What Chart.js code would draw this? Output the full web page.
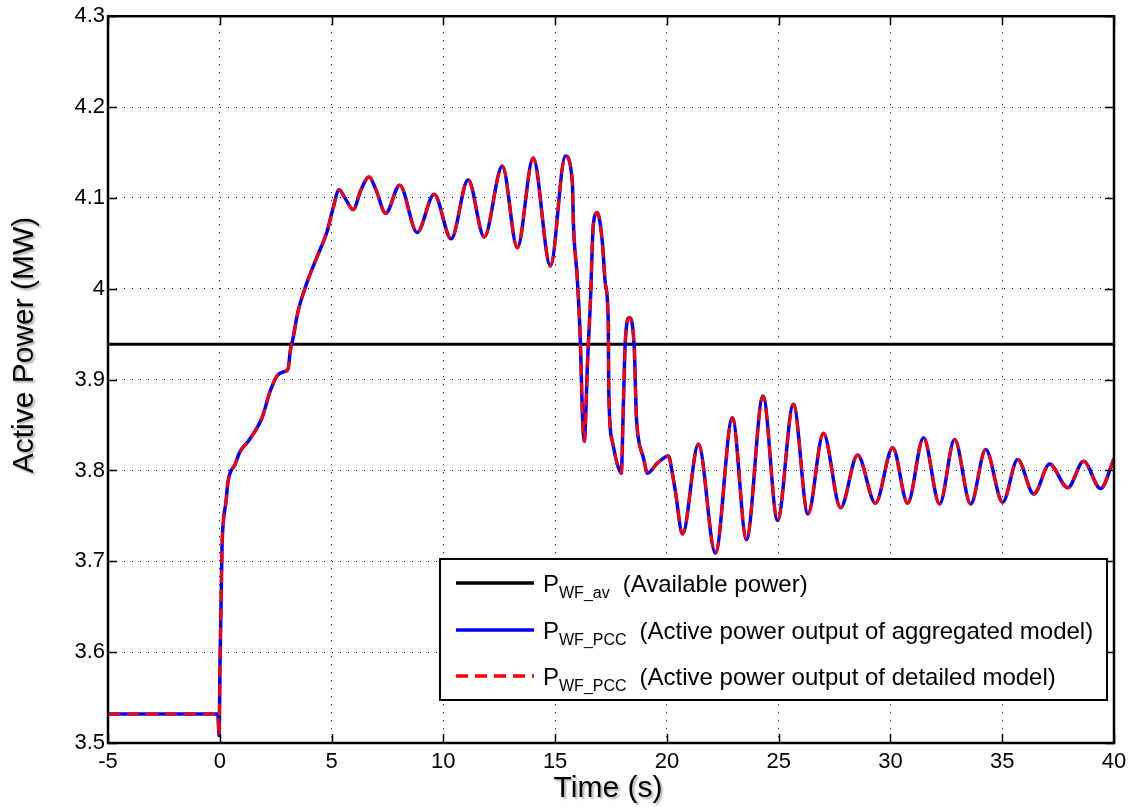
<!DOCTYPE html>
<html>
<head>
<meta charset="utf-8">
<title>Active power</title>
<script src="https://cdn.jsdelivr.net/npm/chart.js@4.4.0/dist/chart.umd.min.js"></script>
<style>
  body { margin: 0; background: #fff; }
  #powerChart { display: block; }
</style>
</head>
<body>
<canvas id="powerChart" width="1135" height="807"></canvas>
<script>
// values (time in s, power in MW)
const timeS = [-5, -0.09, -0.03, 0.01, 0.06, 0.10, 0.15, 0.28, 0.37, 0.69, 0.91, 1.27, 1.89, 2.25, 2.56, 2.92,
    3.06, 3.15, 3.28, 3.50, 3.82, 4.04, 4.40, 4.80, 5.07, 5.34, 5.60, 5.97, 6.30, 6.68, 7.00, 7.42, 8.05, 8.83,
    9.59, 10.35, 11.11, 11.83, 12.64, 13.31, 14.02, 14.79, 15.46, 15.77, 15.82, 15.99, 16.13, 16.22, 16.31, 16.35,
    16.44, 16.58, 16.71, 16.89, 17.11, 17.25, 17.38, 17.40, 17.56, 17.78, 17.96, 18.05, 18.14, 18.32, 18.54, 18.63,
    18.72, 18.95, 19.13, 19.57, 20.07, 20.25, 20.38, 20.70, 21.41, 22.17, 22.93, 23.56, 24.30, 24.95, 25.66, 26.31,
    27.00, 27.77, 28.53, 29.33, 30.10, 30.77, 31.48, 32.20, 32.87, 33.59, 34.26, 35.02, 35.69, 36.41, 37.12, 37.93,
    38.64, 39.40, 40.00];

const aggregatedP = [3.532, 3.532, 3.508, 3.587, 3.656, 3.715, 3.741, 3.766, 3.788, 3.807, 3.821, 3.832, 3.858, 3.887, 3.904, 3.909,
    3.912, 3.931, 3.946, 3.975, 4.001, 4.016, 4.038, 4.063, 4.089, 4.109, 4.100, 4.087, 4.108, 4.123, 4.108, 4.083, 4.114, 4.062,
    4.104, 4.055, 4.120, 4.057, 4.135, 4.045, 4.144, 4.025, 4.146, 4.118, 4.071, 4.012, 3.942, 3.862, 3.832, 3.847,
    3.913, 3.986, 4.071, 4.084, 4.052, 4.005, 3.961, 3.887, 3.832, 3.807, 3.797, 3.869, 3.942, 3.968, 3.935, 3.862,
    3.836, 3.814, 3.797, 3.808, 3.816, 3.796, 3.777, 3.730, 3.829, 3.709, 3.858, 3.724, 3.882, 3.745, 3.873, 3.752,
    3.841, 3.759, 3.817, 3.764, 3.825, 3.764, 3.836, 3.763, 3.834, 3.763, 3.823, 3.765, 3.812, 3.774, 3.807, 3.781,
    3.810, 3.780, 3.813];

// the detailed model lies on top of the aggregated one in the picture
const detailedP = aggregatedP.slice();

const availableT = [-5, 40];
const availableP = [3.939, 3.939];

const xTicks = [-5, 0, 5, 10, 15, 20, 25, 30, 35, 40];
const yTicks = [3.5, 3.6, 3.7, 3.8, 3.9, 4.0, 4.1, 4.2, 4.3];

const legendRows = [
    { main: 'P', sub: 'WF_av', text: '(Available power)', color: '#000', dash: [] },
    { main: 'P', sub: 'WF_PCC', text: '(Active power output of aggregated model)', color: '#0000ff', dash: [] },
    { main: 'P', sub: 'WF_PCC', text: '(Active power output of detailed model)', color: '#ff0000', dash: [12, 7] }
];

const FONT = "'Liberation Sans', Arial, Helvetica, sans-serif";

function toPoints(xs, ys) {
    return xs.map((x, i) => ({ x: x, y: ys[i] }));
}

// box, inward ticks, axis titles and the legend, MATLAB style
const matlabFrame = {
    id: 'matlabFrame',
    afterDraw(chart) {
        const ctx = chart.ctx;
        const a = chart.chartArea;
        const xs = chart.scales.x;
        const ys = chart.scales.y;
        ctx.save();

        ctx.strokeStyle = '#000';
        ctx.lineWidth = 1.5;
        ctx.beginPath();
        xTicks.forEach(v => {
            const px = Math.round(xs.getPixelForValue(v)) + 0.5;
            ctx.moveTo(px, a.bottom); ctx.lineTo(px, a.bottom - 9);
            ctx.moveTo(px, a.top); ctx.lineTo(px, a.top + 9);
        });
        yTicks.forEach(v => {
            const py = Math.round(ys.getPixelForValue(v)) + 0.5;
            ctx.moveTo(a.left, py); ctx.lineTo(a.left + 9, py);
            ctx.moveTo(a.right, py); ctx.lineTo(a.right - 9, py);
        });
        ctx.stroke();

        ctx.lineWidth = 2.5;
        ctx.strokeRect(a.left, a.top, a.right - a.left, a.bottom - a.top);

        // axis titles
        ctx.save();
        ctx.shadowColor = 'rgba(0,0,0,0.3)';
        ctx.shadowOffsetX = 2;
        ctx.shadowOffsetY = 2;
        ctx.shadowBlur = 2;
        ctx.fillStyle = '#000';
        ctx.font = '30px ' + FONT;
        ctx.textAlign = 'center';
        ctx.textBaseline = 'middle';
        ctx.fillText('Time (s)', 608, 789);
        ctx.translate(25, 345);
        ctx.rotate(-Math.PI / 2);
        ctx.fillText('Active Power (MW)', 0, 0);
        ctx.restore();

        // legend
        const box = { left: 440, top: 559, right: 1107, bottom: 700 };
        ctx.fillStyle = '#fff';
        ctx.fillRect(box.left, box.top, box.right - box.left, box.bottom - box.top);
        ctx.lineWidth = 2;
        ctx.strokeStyle = '#000';
        ctx.strokeRect(box.left, box.top, box.right - box.left, box.bottom - box.top);

        const rowY = [583, 630, 676];
        legendRows.forEach((row, i) => {
            const y = rowY[i];
            ctx.save();
            ctx.strokeStyle = row.color;
            ctx.lineWidth = 3.5;
            ctx.setLineDash(row.dash);
            ctx.beginPath();
            ctx.moveTo(456, y);
            ctx.lineTo(534, y);
            ctx.stroke();
            ctx.restore();

            ctx.fillStyle = '#000';
            ctx.textAlign = 'left';
            ctx.textBaseline = 'alphabetic';
            ctx.font = '24px ' + FONT;
            let x = 543;
            ctx.fillText(row.main, x, y + 9);
            x += ctx.measureText(row.main).width;
            ctx.font = '16px ' + FONT;
            ctx.fillText(row.sub, x, y + 15);
            x += ctx.measureText(row.sub).width + 13;
            ctx.font = '24px ' + FONT;
            ctx.fillText(row.text, x, y + 9);
        });

        ctx.restore();
    }
};

const ctx = document.getElementById('powerChart').getContext('2d');
const powerChart = new Chart(ctx, {
    type: 'line',
    data: {
        datasets: [{
            label: 'P_WF_PCC (Active power output of detailed model)',
            data: toPoints(timeS, detailedP),
            borderColor: '#ff0000',
            borderWidth: 3,
            borderDash: [12, 7],
            cubicInterpolationMode: 'monotone',
            pointRadius: 0,
            order: 0
        }, {
            label: 'P_WF_PCC (Active power output of aggregated model)',
            data: toPoints(timeS, aggregatedP),
            borderColor: '#0000ff',
            borderWidth: 3.5,
            cubicInterpolationMode: 'monotone',
            pointRadius: 0,
            order: 1
        }, {
            label: 'P_WF_av (Available power)',
            data: toPoints(availableT, availableP),
            borderColor: '#000',
            borderWidth: 3,
            pointRadius: 0,
            order: 2
        }]
    },
    options: {
        responsive: false,
        animation: false,
        layout: { padding: { left: 0, top: 15, right: 21, bottom: 0 } },
        plugins: {
            legend: { display: false },
            tooltip: { enabled: false }
        },
        scales: {
            x: {
                type: 'linear',
                min: -5,
                max: 40,
                afterFit: scale => { scale.height = 64; },
                afterBuildTicks: scale => { scale.ticks = xTicks.map(v => ({ value: v })); },
                grid: { color: '#000', lineWidth: 1, drawTicks: false },
                border: { display: false, dash: [1, 7] },
                ticks: {
                    autoSkip: false,
                    maxRotation: 0,
                    padding: 6,
                    color: '#000',
                    font: { size: 22, family: FONT }
                }
            },
            y: {
                min: 3.5,
                max: 4.3,
                afterFit: scale => { scale.width = 108; },
                afterBuildTicks: scale => { scale.ticks = yTicks.map(v => ({ value: v })); },
                grid: { color: '#000', lineWidth: 1, drawTicks: false },
                border: { display: false, dash: [1, 7] },
                ticks: {
                    autoSkip: false,
                    padding: 3,
                    color: '#000',
                    font: { size: 22, family: FONT },
                    callback: v => String(+v.toFixed(1))
                }
            }
        }
    },
    plugins: [matlabFrame]
});
</script>
</body>
</html>
